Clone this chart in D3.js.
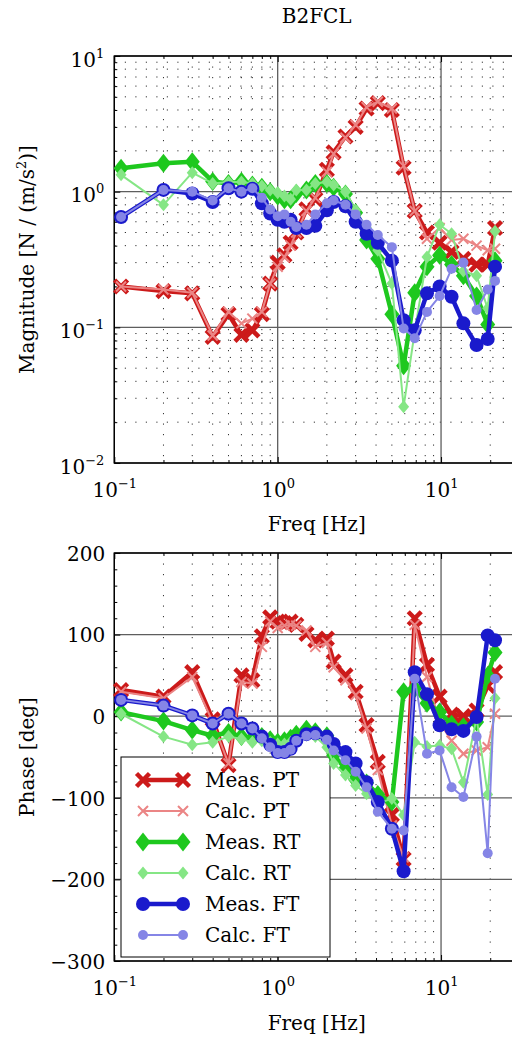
<!DOCTYPE html>
<html>
<head>
<meta charset="utf-8">
<script src="https://cdn.jsdelivr.net/npm/d3@7"></script>
<style>
    body { margin: 0; background: #fff; }
    svg text { fill: #000; }
</style>
</head>
<body>
<div id="chart"></div>
<script>
// Frequencies [Hz]
var freq = [0.11, 0.2, 0.3, 0.4, 0.5, 0.6, 0.7, 0.8, 0.9, 1.0, 1.1, 1.2, 1.3, 1.5, 1.7,
    2.0, 2.2, 2.6, 3.0, 3.5, 4.1, 5.0, 5.9, 6.9, 8.2, 9.8, 11.6, 13.7, 16.5, 19.3, 21.4];

// Magnitude [N / (m/s^2)]
var magMeasPT = [0.20, 0.185, 0.178, 0.085, 0.125, 0.088, 0.095, 0.125, 0.21, 0.30, 0.34, 0.42, 0.50, 0.74, 0.88,
    1.45, 1.95, 2.55, 3.0, 4.1, 4.5, 4.0, 1.5, 0.72, 0.50, 0.42, 0.36, 0.32, 0.29, 0.29, 0.54];
var magCalcPT = [0.20, 0.19, 0.18, 0.087, 0.13, 0.107, 0.116, 0.13, 0.21, 0.28, 0.33, 0.40, 0.50, 0.72, 0.90,
    1.40, 1.9, 2.5, 3.1, 4.2, 4.6, 4.1, 1.55, 0.72, 0.45, 0.54, 0.44, 0.45, 0.40, 0.37, 0.38];
var magMeasRT = [1.49, 1.62, 1.66, 1.19, 1.15, 1.19, 1.12, 1.08, 1.0, 0.93, 0.87, 0.87, 0.97, 1.03, 1.15,
    1.15, 1.08, 0.96, 0.70, 0.44, 0.32, 0.125, 0.052, 0.18, 0.28, 0.34, 0.29, 0.24, 0.17, 0.105, 0.31];
var magCalcRT = [1.33, 0.80, 1.38, 1.15, 1.18, 1.18, 1.15, 1.10, 1.03, 0.98, 0.93, 0.88, 1.03, 1.03, 1.15,
    1.18, 1.12, 1.0, 0.73, 0.54, 0.37, 0.21, 0.026, 0.093, 0.33, 0.57, 0.49, 0.26, 0.24, 0.138, 0.51];
var magMeasFT = [0.65, 1.03, 0.97, 0.84, 1.06, 1.0, 1.05, 0.82, 0.69, 0.62, 0.60, 0.62, 0.54, 0.54, 0.56,
    0.73, 0.84, 0.78, 0.60, 0.49, 0.42, 0.31, 0.113, 0.095, 0.178, 0.20, 0.168, 0.107, 0.074, 0.082, 0.28];
var magCalcFT = [0.65, 1.03, 1.0, 0.86, 1.06, 1.0, 1.06, 0.90, 0.74, 0.66, 0.68, 0.60, 0.55, 0.57, 0.68,
    0.82, 0.86, 0.80, 0.68, 0.57, 0.48, 0.39, 0.098, 0.083, 0.13, 0.17, 0.27, 0.30, 0.134, 0.19, 0.22];

// Phase [deg]
var phaseMeasPT = [32, 24, 54, -4, -60, 50, 44, 98, 121, 116, 114, 116, 112, 101, 93,
    95, 67, 50, 30, -11, -56, -121, -175, 120, 63, 24, 2, 0, 7, 37, 54];
var phaseCalcPT = [30, 22, 48, -7, -58, 42, 40, 85, 116, 108, 111, 112, 111, 105, 85,
    90, 60, 44, 26, -15, -66, -134, -173, 112, 48, -8, -30, -46, -42, -38, 3];
var phaseMeasRT = [5, -6, -17, -24, -20, -25, -27, -25, -29, -32, -30, -27, -22, -16, -19,
    -24, -48, -64, -78, -82, -96, -105, 30, 34, 16, 5, -10, -13, -7, 50, 78];
var phaseCalcRT = [3, -25, -35, -32, -25, -28, -32, -30, -32, -34, -34, -32, -30, -23, -25,
    -38, -58, -72, -85, -95, -107, -101, -121, -32, -37, -36, -40, -81, -2, -96, 22];
var phaseMeasFT = [20, 13, 1, -9, 3, -9, -15, -25, -35, -44, -44, -40, -30, -22, -21,
    -25, -34, -44, -58, -81, -105, -138, -190, 54, 27, -11, -16, -18, -1, 99, 93];
var phaseCalcFT = [20, 13, 1, -9, 3, -9, -15, -27, -38, -45, -45, -41, -30, -24, -23,
    -29, -42, -54, -68, -87, -117, -138, -140, 46, -46, -42, -87, -99, -25, -168, 46];

var seriesNames = ["Meas. PT", "Calc. PT", "Meas. RT", "Calc. RT", "Meas. FT", "Calc. FT"];
var xTicks = [0.1, 1, 10];
var magTicks = [0.01, 0.1, 1, 10];
var phaseTicks = [-300, -200, -100, 0, 100, 200];

var FONT = "'DejaVu Serif', serif";
var FS = 20;   // main font size
var SUP = 13;  // superscript size

function init() {
    var w = 512, h = 1039;

    // Series styles (legend order)
    var styles = [
        { color: "#cc1a1a", width: 4.5, marker: "x", size: 6.5, mw: 4.5 },
        { color: "#eb8585", width: 2, marker: "x", size: 5, mw: 2 },
        { color: "#1ec81e", width: 4.5, marker: "d", size: 7.5, hh: 9.5 },
        { color: "#85e685", width: 2, marker: "d", size: 5.5, hh: 6.5 },
        { color: "#1a1acc", width: 4.5, marker: "o", size: 7 },
        { color: "#8585e6", width: 2, marker: "o", size: 5 }
    ];
    var magData = [magMeasPT, magCalcPT, magMeasRT, magCalcRT, magMeasFT, magCalcFT];
    var phaseData = [phaseMeasPT, phaseCalcPT, phaseMeasRT, phaseCalcRT, phaseMeasFT, phaseCalcFT];

    var svg = d3.select("#chart").append("svg")
        .attr("width", w)
        .attr("height", h)
        .attr("font-family", FONT);
    svg.append("rect").attr("width", w).attr("height", h).attr("fill", "#fff");

    // Layers: axes/grid, legend, data
    var axisLayer = svg.append("g");
    var legendLayer = svg.append("g");
    var dataLayer = svg.append("g");

    // Scales
    var x = d3.scaleLog().domain([0.1, 30]).range([114.3, 519]);
    var yMag = d3.scaleLog().domain([0.01, 10]).range([463, 56]);
    var yPh = d3.scaleLinear().domain([-300, 200]).range([961, 553]);

    var xMinor = [];
    [0.1, 1, 10].forEach(function (dec) {
        for (var k = 2; k <= 9; k++) {
            if (dec * k < 30) xMinor.push(dec * k);
        }
    });
    var magMinor = [];
    [0.01, 0.1, 1].forEach(function (dec) {
        for (var k = 2; k <= 9; k++) magMinor.push(dec * k);
    });
    var phaseMinor = d3.range(-280, 200, 20).filter(function (v) { return v % 100 !== 0; });

    function powLabel(sel) {
        sel.each(function (d) {
            var t = d3.select(this);
            var e = Math.round(Math.log10(d));
            t.text("10");
            t.append("tspan")
                .attr("dy", -9)
                .attr("font-size", SUP)
                .text(e < 0 ? "\u2212" + (-e) : String(e));
        });
    }

    function drawPanel(yScale, yMajor, yMinorVals, dottedRows, data, isLog) {
        var top = yScale.range()[1], bottom = yScale.range()[0];
        var left = x.range()[0], right = x.range()[1];
        var g = axisLayer.append("g");

        // Minor grid (dotted)
        g.selectAll(".vminor").data(xMinor).enter().append("line")
            .attr("x1", function (d) { return x(d); }).attr("x2", function (d) { return x(d); })
            .attr("y1", top).attr("y2", bottom)
            .attr("stroke", "#333").attr("stroke-width", 1)
            .attr("stroke-dasharray", "1.2,9.3");
        if (dottedRows) {
            g.selectAll(".hminor").data(yMinorVals).enter().append("line")
                .attr("y1", function (d) { return yScale(d); }).attr("y2", function (d) { return yScale(d); })
                .attr("x1", left).attr("x2", right)
                .attr("stroke", "#333").attr("stroke-width", 1)
                .attr("stroke-dasharray", "1.2,9.3");
        }

        // Major grid
        g.selectAll(".vmajor").data(xTicks).enter().append("line")
            .attr("x1", function (d) { return x(d); }).attr("x2", function (d) { return x(d); })
            .attr("y1", top).attr("y2", bottom)
            .attr("stroke", "#5e5e5e").attr("stroke-width", 1.3);
        g.selectAll(".hmajor").data(yMajor).enter().append("line")
            .attr("y1", function (d) { return yScale(d); }).attr("y2", function (d) { return yScale(d); })
            .attr("x1", left).attr("x2", right)
            .attr("stroke", "#5e5e5e").attr("stroke-width", 1.3);

        // Axes with inward ticks
        var xAxis = g.append("g").attr("transform", "translate(0," + bottom + ")")
            .call(d3.axisBottom(x).tickValues(xTicks).tickSize(-6).tickPadding(0));
        xAxis.selectAll("text").attr("y", 34).attr("dy", 0).attr("font-size", FS).call(powLabel);
        g.append("g").attr("transform", "translate(0," + bottom + ")")
            .call(d3.axisBottom(x).tickValues(xMinor).tickSize(-3).tickFormat(""));
        g.append("g").attr("transform", "translate(0," + top + ")")
            .call(d3.axisTop(x).tickValues(xTicks).tickSize(-6).tickFormat(""));
        g.append("g").attr("transform", "translate(0," + top + ")")
            .call(d3.axisTop(x).tickValues(xMinor).tickSize(-3).tickFormat(""));

        var yAxis = g.append("g").attr("transform", "translate(" + left + ",0)")
            .call(d3.axisLeft(yScale).tickValues(yMajor).tickSize(-6).tickPadding(9));
        yAxis.selectAll("text").attr("font-size", FS);
        if (isLog) {
            yAxis.selectAll("text").attr("x", -10).attr("dy", 10).call(powLabel);
        } else {
            yAxis.selectAll("text").attr("dy", "0.36em");
        }
        g.append("g").attr("transform", "translate(" + left + ",0)")
            .call(d3.axisLeft(yScale).tickValues(yMinorVals).tickSize(-3).tickFormat(""));

        g.selectAll(".domain").remove();
        g.selectAll(".tick line").attr("stroke", "#000").attr("stroke-width", 1);
        g.selectAll("g").attr("font-family", FONT);

        // Frame
        g.append("rect")
            .attr("x", left).attr("y", top)
            .attr("width", right - left).attr("height", bottom - top)
            .attr("fill", "none").attr("stroke", "#000").attr("stroke-width", 1.4);

        // Data series
        var line = d3.line()
            .x(function (d, i) { return x(freq[i]); })
            .y(function (d) { return yScale(d); });
        data.forEach(function (vals, si) {
            var st = styles[si];
            var sg = dataLayer.append("g");
            sg.append("path").datum(vals)
                .attr("d", line)
                .attr("fill", "none")
                .attr("stroke", st.color)
                .attr("stroke-width", st.width)
                .attr("stroke-linejoin", "round");
            drawMarkers(sg, vals.map(function (v, i) { return [x(freq[i]), yScale(v)]; }), st);
        });
    }

    function drawMarkers(g, pts, st) {
        if (st.marker === "o") {
            g.selectAll("circle").data(pts).enter().append("circle")
                .attr("cx", function (d) { return d[0]; })
                .attr("cy", function (d) { return d[1]; })
                .attr("r", st.size)
                .attr("fill", st.color);
        } else if (st.marker === "d") {
            g.selectAll("path.m").data(pts).enter().append("path")
                .attr("class", "m")
                .attr("d", function (d) {
                    return "M" + d[0] + "," + (d[1] - st.hh) + "L" + (d[0] + st.size) + "," + d[1] +
                        "L" + d[0] + "," + (d[1] + st.hh) + "L" + (d[0] - st.size) + "," + d[1] + "Z";
                })
                .attr("fill", st.color);
        } else {
            var s = st.size;
            g.selectAll("path.m").data(pts).enter().append("path")
                .attr("class", "m")
                .attr("d", function (d) {
                    return "M" + (d[0] - s) + "," + (d[1] - s) + "L" + (d[0] + s) + "," + (d[1] + s) +
                        "M" + (d[0] - s) + "," + (d[1] + s) + "L" + (d[0] + s) + "," + (d[1] - s);
                })
                .attr("fill", "none")
                .attr("stroke", st.color)
                .attr("stroke-width", st.mw);
        }
    }

    drawPanel(yMag, magTicks, magMinor, true, magData, true);
    drawPanel(yPh, phaseTicks, phaseMinor, false, phaseData, false);

    // Title and axis labels
    svg.append("text").attr("x", 316.7).attr("y", 23).attr("text-anchor", "middle")
        .attr("font-size", FS).text("B2FCL");
    svg.append("text").attr("x", 316.7).attr("y", 531).attr("text-anchor", "middle")
        .attr("font-size", FS).text("Freq [Hz]");
    svg.append("text").attr("x", 316.7).attr("y", 1030).attr("text-anchor", "middle")
        .attr("font-size", FS).text("Freq [Hz]");

    var magLabel = svg.append("text")
        .attr("transform", "translate(34,259.5) rotate(-90)")
        .attr("text-anchor", "middle")
        .attr("font-size", FS);
    magLabel.append("tspan").text("Magnitude [N / (m/s");
    magLabel.append("tspan").attr("dy", -8).attr("font-size", SUP).text("2");
    magLabel.append("tspan").attr("dy", 8).text(")]");

    svg.append("text")
        .attr("transform", "translate(34,757) rotate(-90)")
        .attr("text-anchor", "middle")
        .attr("font-size", FS).text("Phase [deg]");

    // Legend (drawn under the data, as in the reference)
    legendLayer.append("rect")
        .attr("x", 121).attr("y", 757).attr("width", 209).attr("height", 200)
        .attr("fill", "#fff").attr("stroke", "#000").attr("stroke-width", 1);
    seriesNames.forEach(function (name, i) {
        var yy = 780 + i * 31;
        var st = styles[i];
        legendLayer.append("line")
            .attr("x1", 143).attr("x2", 183).attr("y1", yy).attr("y2", yy)
            .attr("stroke", st.color).attr("stroke-width", st.width);
        drawMarkers(legendLayer.append("g"), [[143, yy], [183, yy]], st);
        legendLayer.append("text").attr("x", 205).attr("y", yy + 7)
            .attr("font-size", FS).text(name);
    });
}

window.onload = init;
</script>
</body>
</html>
